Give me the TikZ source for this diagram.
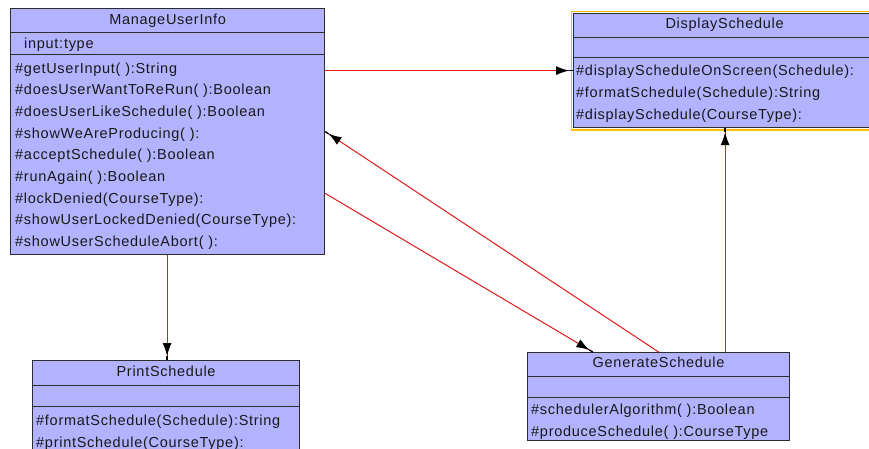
\documentclass[tikz,border=0pt]{standalone}
\usepackage{fontspec}
\setmainfont{Liberation Sans}[LetterSpace=5]
\usetikzlibrary{arrows.meta,calc}

\definecolor{umlfill}{RGB}{178,178,255}
\definecolor{umlline}{RGB}{45,45,45}
\definecolor{assocred}{RGB}{225,25,25}
\definecolor{selgold}{RGB}{250,190,0}

\tikzset{
    classbox/.style={draw=umlline, fill=umlfill, line width=1.2pt, inner sep=0pt, anchor=north west},
    divider/.style={draw=umlline, line width=1pt},
    classname/.style={anchor=base, inner sep=0pt, text=black!90, font=\fontsize{14.5}{21.7}\selectfont},
    % base of a multi-line node is its last line
    members/.style={anchor=base west, align=left, inner sep=0pt, text=black!90, font=\fontsize{14.5}{21.7}\selectfont},
    assoc/.style={draw=assocred, line width=1pt,
        -{Latex[color=black, fill=black, length=13pt, width=9pt]Rectangle[color=black, fill=black, length=4pt, width=1.4pt]}}
}

\begin{document}
\begin{tikzpicture}[x=1pt, y=-1pt]
    \useasboundingbox (0,0) rectangle (869,449);
    \clip (0,0) rectangle (869,449);

    % ManageUserInfo
    \node[classbox, minimum width=314pt, minimum height=246pt] (manage) at (10,8) {};
    \draw[divider] (manage.west |- 0,33) -- (manage.east |- 0,33);
    \draw[divider] (manage.west |- 0,55) -- (manage.east |- 0,55);
    \node[classname] (manage-name) at (manage.north |- 0,25) {ManageUserInfo};
    \node[members] (manage-attr) at (24,49) {input:type};
    \node[members] (manage-ops) at (15,246.6) {\#getUserInput( ):String\\ \#doesUserWantToReRun( ):Boolean\\
        \#doesUserLikeSchedule( ):Boolean\\ \#showWeAreProducing( ):\\ \#acceptSchedule( ):Boolean\\
        \#runAgain( ):Boolean\\ \#lockDenied(CourseType):\\ \#showUserLockedDenied(CourseType):\\
        \#showUserScheduleAbort( ):};

    % DisplaySchedule (selected, gold frame)
    \node[classbox, minimum width=302pt, minimum height=114pt] (display) at (573,13) {};
    \draw[selgold, line width=1.5pt] ([shift={(-1.6,-1.6)}]display.north west) rectangle ([shift={(1.6,1.6)}]display.south east);
    \draw[divider] (display.west |- 0,38) -- (display.east |- 0,38);
    \draw[divider] (display.west |- 0,58) -- (display.east |- 0,58);
    \node[classname] (display-name) at (display.north |- 0,28.5) {DisplaySchedule};
    \node[members] (display-ops) at (576,119.4) {\#displayScheduleOnScreen(Schedule):\\
        \#formatSchedule(Schedule):String\\ \#displaySchedule(CourseType):};

    % PrintSchedule
    \node[classbox, minimum width=267pt, minimum height=110pt] (print) at (32,360) {};
    \draw[divider] (print.west |- 0,385) -- (print.east |- 0,385);
    \draw[divider] (print.west |- 0,406) -- (print.east |- 0,406);
    \node[classname] (print-name) at (print.north |- 0,376) {PrintSchedule};
    \node[members] (print-ops) at (36,447.2) {\#formatSchedule(Schedule):String\\ \#printSchedule(CourseType):};

    % GenerateSchedule
    \node[classbox, minimum width=262pt, minimum height=88pt] (generate) at (527,352) {};
    \draw[divider] (generate.west |- 0,376) -- (generate.east |- 0,376);
    \draw[divider] (generate.west |- 0,397) -- (generate.east |- 0,397);
    \node[classname] (generate-name) at (generate.north |- 0,367) {GenerateSchedule};
    \node[members] (generate-ops) at (531,436.2) {\#schedulerAlgorithm( ):Boolean\\ \#produceSchedule( ):CourseType};

    % associations
    \draw[assoc] (manage.east |- display.west) -- (display.west);
    \draw[assoc] (generate.north) -- (manage.east);
    \draw[assoc] ($(manage.east)!0.5!(manage.south east)$) -- ($(generate.north west)!0.25!(generate.north east)$);
    \draw[assoc] ([xshift=-0.5pt]manage.south) -- ([xshift=-0.5pt]manage.south |- print.north);
    \draw[assoc] ([xshift=0.5pt]generate.north -| display.south) -- ([xshift=0.5pt]display.south);
\end{tikzpicture}
\end{document}
